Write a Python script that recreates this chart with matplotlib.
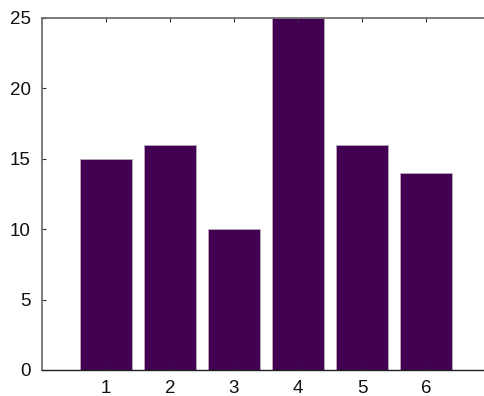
import matplotlib
matplotlib.use("Agg")
import matplotlib.pyplot as plt

categories = [1, 2, 3, 4, 5, 6]
values = [15, 16, 10, 25, 16, 14]
yticks = [0, 5, 10, 15, 20, 25]

plt.rcParams['font.family'] = ['Liberation Sans', 'DejaVu Sans']
fig = plt.figure(figsize=(4.85, 3.96), dpi=100)
W, H = 485, 396
left, right, top, bottom = 42, 490, 18, 370
ax = fig.add_axes([left / W, 1 - bottom / H, (right - left) / W, (bottom - top) / H])
ax.bar(categories, values, width=0.8, color='#420052', edgecolor='#b8a8bc', linewidth=0.6)
ax.set_xlim(0, 7)
ax.set_ylim(0, 25)
ax.set_xticks(categories)
ax.set_yticks(yticks)
ax.tick_params(direction='in', length=3, width=0.8, labelsize=13.5, colors='#333333',
               labelcolor='#111111', top=True, right=False, pad=7)
ax.tick_params(axis='y', pad=8)
ax.spines['right'].set_visible(False)
for s in ['left', 'top']:
    ax.spines[s].set_color('#666666')
    ax.spines[s].set_linewidth(1.2)
ax.spines['bottom'].set_color('#222222')
ax.spines['bottom'].set_linewidth(1.0)
fig.savefig('out.png', dpi=100)
